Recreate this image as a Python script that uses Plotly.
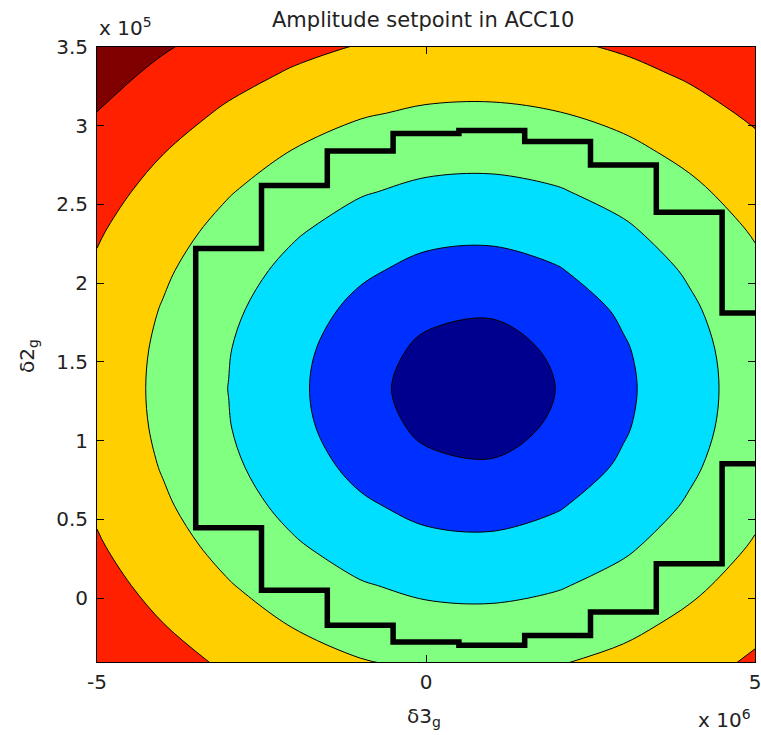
import plotly.graph_objects as go

# ---- data (x in units of 1e6, y in units of 1e5) ----
x_nodes = [-5, -4, -3, -2, -1, 0, 1, 2, 3, 4, 5]
y_nodes = [-0.42, -0.17, 0.08, 0.33, 0.58, 0.83, 1.08, 1.33, 1.58, 1.83,
           2.08, 2.33, 2.58, 2.83, 3.08, 3.33, 3.58]

# amplitude estimated at each grid node (rows follow y_nodes, columns x_nodes)
amplitude = [
    [2.730, 2.460, 2.218, 2.014, 1.860, 1.770, 1.753, 1.812, 1.939, 2.123, 2.350],
    [2.577, 2.289, 2.027, 1.801, 1.627, 1.523, 1.504, 1.572, 1.717, 1.922, 2.170],
    [2.440, 2.133, 1.849, 1.599, 1.400, 1.278, 1.254, 1.335, 1.503, 1.734, 2.005],
    [2.322, 1.997, 1.690, 1.412, 1.182, 1.034, 1.005, 1.104, 1.303, 1.563, 1.860],
    [2.225, 1.885, 1.555, 1.247, 0.980, 0.795, 0.757, 0.884, 1.122, 1.416, 1.738],
    [2.154, 1.800, 1.452, 1.115, 0.804, 0.565, 0.510, 0.685, 0.973, 1.301, 1.646],
    [2.110, 1.747, 1.385, 1.027, 0.678, 0.363, 0.270, 0.531, 0.872, 1.227, 1.588],
    [2.095, 1.729, 1.363, 0.996, 0.630, 0.264, 0.102, 0.469, 0.835, 1.202, 1.568],
    [2.110, 1.747, 1.385, 1.027, 0.678, 0.363, 0.270, 0.531, 0.872, 1.227, 1.588],
    [2.154, 1.800, 1.452, 1.115, 0.804, 0.565, 0.510, 0.685, 0.973, 1.301, 1.646],
    [2.225, 1.885, 1.555, 1.247, 0.980, 0.795, 0.757, 0.884, 1.122, 1.416, 1.738],
    [2.322, 1.997, 1.690, 1.412, 1.182, 1.034, 1.005, 1.104, 1.303, 1.563, 1.860],
    [2.440, 2.133, 1.849, 1.599, 1.400, 1.278, 1.254, 1.335, 1.503, 1.734, 2.005],
    [2.577, 2.289, 2.027, 1.801, 1.627, 1.523, 1.504, 1.572, 1.717, 1.922, 2.170],
    [2.730, 2.460, 2.218, 2.014, 1.860, 1.770, 1.753, 1.812, 1.939, 2.123, 2.350],
    [2.897, 2.644, 2.420, 2.234, 2.097, 2.017, 2.003, 2.054, 2.167, 2.333, 2.541],
    [3.074, 2.838, 2.630, 2.461, 2.337, 2.265, 2.252, 2.298, 2.400, 2.551, 2.742],
]

level_start = 0.456
level_step = 0.456
level_end = 2.74
band_colors = ["#00008F", "#0030FF", "#00DFFF", "#80FF80", "#FFCF00", "#FF2000", "#800000"]

# step boundary (column edges and upper / lower limits per column)
step_edges = [-3.5, -2.5, -1.5, -0.5, 0.5, 1.5, 2.5, 3.5, 4.5, 5.5]
step_upper = [2.22, 2.62, 2.84, 2.95, 2.97, 2.90, 2.75, 2.45, 1.81]
step_lower = [0.447, 0.049, -0.173, -0.279, -0.30, -0.237, -0.089, 0.218, 0.853]

x_ticks = [-5, 0, 5]
x_ticklabels = ["-5", "0", "5"]
y_ticks = [0, 0.5, 1, 1.5, 2, 2.5, 3, 3.5]
y_ticklabels = ["0", "0.5", "1", "1.5", "2", "2.5", "3", "3.5"]

title_text = "Amplitude setpoint in ACC10"
x_label = "δ3<sub>g</sub>"
y_label = "δ2<sub>g</sub>"

# ---- build step path from the arrays ----
n = len(step_upper)
sx, sy = [], []
for i in range(n - 1, -1, -1):
    sx += [step_edges[i + 1], step_edges[i]]
    sy += [step_upper[i], step_upper[i]]
for i in range(n):
    sx += [step_edges[i], step_edges[i + 1]]
    sy += [step_lower[i], step_lower[i]]

nb = len(band_colors)
colorscale = [[i / (nb - 1), c] for i, c in enumerate(band_colors)]

fig = go.Figure()
fig.add_trace(go.Contour(
    x=x_nodes, y=y_nodes, z=amplitude,
    autocontour=False,
    contours=dict(start=level_start, end=level_end, size=level_step,
                  coloring="fill", showlines=True),
    line=dict(color="black", width=1, smoothing=1),
    colorscale=colorscale, showscale=False, hoverinfo="skip",
))
fig.add_trace(go.Scatter(
    x=sx, y=sy, mode="lines",
    line=dict(color="black", width=5.5),
    hoverinfo="skip", showlegend=False,
))

W, H = 761, 735
L, R, T, B = 97, 6, 47, 73
font = dict(family="DejaVu Sans", size=20, color="#222222")

def px_x(px):
    return (px - L) / (W - L - R)

def px_y(py):
    return (H - B - py) / (H - T - B)

fig.update_layout(
    width=W, height=H,
    margin=dict(l=L, r=R, t=T, b=B, autoexpand=False),
    paper_bgcolor="white", plot_bgcolor="white",
    showlegend=False,
    font=font,
    xaxis=dict(range=[-5, 5], tickvals=x_ticks, ticktext=x_ticklabels,
               ticks="inside", ticklen=7, tickwidth=1, tickcolor="black",
               showline=True, linecolor="black", linewidth=1, mirror="allticks",
               showgrid=False, zeroline=False, tickfont=font, ticklabelstandoff=2,
               ticklabeloverflow="allow", automargin=False),
    yaxis=dict(range=[-0.406, 3.5], tickvals=y_ticks, ticktext=y_ticklabels,
               ticks="inside", ticklen=7, tickwidth=1, tickcolor="black",
               showline=True, linecolor="black", linewidth=1, mirror="allticks",
               showgrid=False, zeroline=False, tickfont=font, ticklabelstandoff=4,
               ticklabeloverflow="allow", automargin=False),
    annotations=[
        dict(text=title_text, xref="paper", yref="paper", x=px_x(423), y=px_y(34),
             xanchor="center", yanchor="bottom", showarrow=False,
             font=dict(family="DejaVu Sans", size=21, color="#222222")),
        dict(text="x 10<sup>5</sup>", xref="paper", yref="paper", x=px_x(97), y=px_y(42),
             xanchor="left", yanchor="bottom", showarrow=False, font=font),
        dict(text="x 10<sup>6</sup>", xref="paper", yref="paper", x=px_x(753), y=px_y(734),
             xanchor="right", yanchor="bottom", showarrow=False, font=font),
        dict(text=x_label, xref="paper", yref="paper", x=px_x(424), y=px_y(702),
             xanchor="center", yanchor="top", showarrow=False, font=font),
        dict(text=y_label, xref="paper", yref="paper", x=px_x(28), y=px_y(356),
             xanchor="center", yanchor="middle", showarrow=False, textangle=-90, font=font),
    ],
)

fig.write_html("out.html")
